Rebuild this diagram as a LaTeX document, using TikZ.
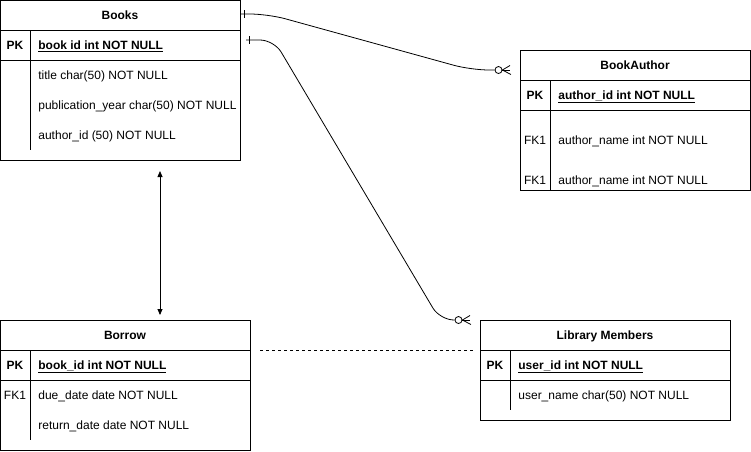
\documentclass[tikz,border=0pt]{standalone}
\usepackage{fontspec}
\setmainfont{Liberation Sans}
\usetikzlibrary{arrows.meta}

\begin{document}
\begin{tikzpicture}
  [x=1pt,y=-1pt,line width=0.8pt,
   every node/.style={font=\fontsize{12}{14}\selectfont,inner sep=0pt,text depth=0pt},
   table/.style={draw,minimum width=#1},
   head/.style={font=\fontsize{12}{14}\selectfont\bfseries},
   field/.style={anchor=west},
   zero/.style={circle,draw,minimum size=7pt}]
  \useasboundingbox (0,0) rectangle (751,451);

  % tables
  \node (books)  at (120.5,80.5)  [table=240pt,minimum height=160pt] {};
  \node (author) at (635.5,120.5) [table=230pt,minimum height=140pt] {};
  \node (borrow) at (125.5,385)   [table=250pt,minimum height=130pt] {};
  \node (member) at (605.5,370.5) [table=250pt,minimum height=100pt] {};

  % Books
  \draw (0.5,30.5) -- (240.5,30.5);
  \draw (0.5,60.5) -- (240.5,60.5);
  \draw (30.5,30.5) -- (30.5,150);
  \node (books-h) at (120,15) [head] {Books};
  \node (books-k) at (15,45) [head] {PK};
  \node (books-p) at (38,45) [field,head] {\underline{book id int NOT NULL}};
  \foreach \y/\txt in {75/title char(50) NOT NULL,
                       105/publication\_year char(50) NOT NULL,
                       135/author\_id (50) NOT NULL}
    \node (books-\y) at (38,\y) [field] {\txt};

  % BookAuthor
  \draw (520.5,80.5) -- (750.5,80.5);
  \draw (520.5,110.5) -- (750.5,110.5);
  \draw (550.5,80.5) -- (550.5,190.5);
  \node (author-h) at (635,65) [head] {BookAuthor};
  \node (author-k) at (535,95) [head] {PK};
  \node (author-p) at (558,95) [field,head] {\underline{author\_id int NOT NULL}};
  \foreach \y in {140,180} {
    \node (author-k\y) at (535,\y) {FK1};
    \node (author-\y) at (558,\y) [field] {author\_name int NOT NULL};
  }

  % Borrow
  \draw (0.5,350.5) -- (250.5,350.5);
  \draw (0.5,380.5) -- (250.5,380.5);
  \draw (30.5,350.5) -- (30.5,440);
  \node (borrow-h) at (125,335) [head] {Borrow};
  \node (borrow-k) at (15,365) [head] {PK};
  \node (borrow-p) at (38,365) [field,head] {\underline{book\_id int NOT NULL}};
  \node (borrow-k2) at (15,395) {FK1};
  \node (borrow-395) at (38,395) [field] {due\_date date NOT NULL};
  \node (borrow-425) at (38,425) [field] {return\_date date NOT NULL};

  % Library Members
  \draw (480.5,350.5) -- (730.5,350.5);
  \draw (480.5,380.5) -- (730.5,380.5);
  \draw (510.5,350.5) -- (510.5,410);
  \node (member-h) at (605,335) [head] {Library Members};
  \node (member-k) at (495,365) [head] {PK};
  \node (member-p) at (518,365) [field,head] {\underline{user\_id int NOT NULL}};
  \node (member-395) at (518,395) [field] {user\_name char(50) NOT NULL};

  % Books -> BookAuthor
  \coordinate (b1) at (240.5,14);
  \coordinate (a1) at (510,70);
  \node (z1) at (498.5,70) [zero] {};
  \draw[rounded corners=18pt] (b1) -- (268,14) -- (471,70) -- (z1.west);
  \draw (244,10) -- (244,18);
  \draw (z1.east) -- (a1);
  \draw (a1) ++(0,-4.5) -- (z1.east) -- ++(8.5,4.5);

  % Books -> Library Members
  \coordinate (b2) at (246,40);
  \coordinate (m2) at (470,320);
  \node (z2) at (458.5,320) [zero] {};
  \draw[rounded corners=14pt] (b2) -- (274,40) -- (440,320) -- (z2.west);
  \draw (249,36) -- (249,44);
  \draw (z2.east) -- (m2);
  \draw (m2) ++(0,-4.5) -- (z2.east) -- ++(8.5,4.5);

  % Books <-> Borrow
  \draw[{Triangle[length=6pt,width=5pt]}-{Triangle[length=6pt,width=5pt]}]
    (160,171) -- (160,315);

  % Borrow - Library Members
  \draw[dashed,dash pattern=on 3pt off 3pt] (260,350) -- (474,350);
\end{tikzpicture}
\end{document}
